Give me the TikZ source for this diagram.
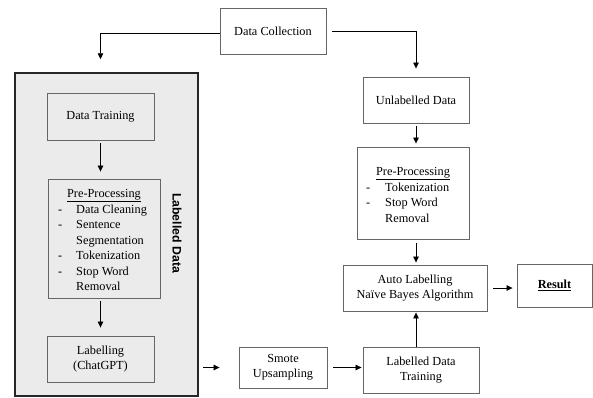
\documentclass[tikz,border=0pt]{standalone}
\usepackage{fontspec}
\setmainfont{Liberation Serif}
\newfontfamily\lsans{Liberation Sans}
\usetikzlibrary{arrows.meta}
\begin{document}
\begin{tikzpicture}[x=1pt,y=-1pt,
  every node/.style={font=\fontsize{12.3}{15.4}\selectfont},
  box/.style={draw=black!60,line width=0.9pt,inner sep=0pt,align=center},
  arr/.style={draw=black,line width=0.7pt,-{Triangle[length=6pt,width=5.5pt]}},
  txt/.style={inner sep=0pt,anchor=base west}]
\useasboundingbox (0,0) rectangle (593,397);
% big grey group
\node[draw=black!85,line width=1.5pt,fill=black!8,minimum width=183,minimum height=323,inner sep=0pt] (big) at (106.5,234.5) {};
\node[rotate=-90,font=\lsans\bfseries\fontsize{12.3}{14}\selectfont] (lbl) at (177,233) {Labelled Data};
% boxes
\node[box,minimum width=106,minimum height=46] (DC) at (273,31) {Data Collection};
\node[box,minimum width=107,minimum height=47] (DT) at (100.5,116.5) {Data Training};
\node[box,minimum width=112,minimum height=119] (PL) at (104,238.5) {};
\node[box,minimum width=107,minimum height=46] (LB) at (100.5,359) {Labelling\\(ChatGPT)};
\node[box,minimum width=106,minimum height=46] (UD) at (416,100) {Unlabelled Data};
\node[box,minimum width=112,minimum height=92] (PR) at (413,193) {};
\node[box,minimum width=144,minimum height=46] (AL) at (415,288) {Auto Labelling\\Naïve Bayes Algorithm};
\node[box,minimum width=75,minimum height=43] (RS) at (554.5,285.5) {\textbf{\underline{Result}}};
\node[box,minimum width=88,minimum height=41] (SM) at (283,367.5) {Smote\\Upsampling};
\node[box,minimum width=116,minimum height=46] (LDT) at (421,370) {Labelled Data\\Training};
% left pre-processing text
\node[inner sep=0pt,anchor=base] (PLh) at (104,197) {\underline{Pre-Processing}};
\node[txt] (PLd1) at (58,213) {-};
\node[txt] (PLt1) at (76,213) {Data Cleaning};
\node[txt] (PLd2) at (58,228.5) {-};
\node[txt] (PLt2) at (76,228.5) {Sentence};
\node[txt] (PLt3) at (76,244) {Segmentation};
\node[txt] (PLd4) at (58,259.5) {-};
\node[txt] (PLt4) at (76,259.5) {Tokenization};
\node[txt] (PLd5) at (58,275) {-};
\node[txt] (PLt5) at (76,275) {Stop Word};
\node[txt] (PLt6) at (76,290.5) {Removal};
% right pre-processing text
\node[inner sep=0pt,anchor=base] (PRh) at (413,175) {\underline{Pre-Processing}};
\node[txt] (PRd1) at (366,191) {-};
\node[txt] (PRt1) at (385,191) {Tokenization};
\node[txt] (PRd2) at (366,206.5) {-};
\node[txt] (PRt2) at (385,206.5) {Stop Word};
\node[txt] (PRt3) at (385,222) {Removal};
% connectors
\draw[arr,shorten >=13pt] ([yshift=-2pt]DC.west) -| (DT.north |- big.north);
\draw[arr,shorten <=6pt,shorten >=8pt] (DC.east) -| (UD.north);
\draw[arr,shorten <=3pt,shorten >=7pt] (DT.south) -- (DT.south |- PL.north);
\draw[arr,shorten <=3pt,shorten >=8pt] (DT.south |- PL.south) -- (LB.north);
\draw[arr,shorten <=4pt,shorten >=19pt] (big.east |- SM.west) -- (SM.west);
\draw[arr,shorten <=6pt,shorten >=1pt] (SM.east) -- (LDT.west |- SM.east);
\draw[arr,shorten >=1pt] (UD.north |- LDT.north) -- (UD.north |- AL.south);
\draw[arr,shorten <=3pt,shorten >=3pt] (UD.south) -- (UD.south |- PR.north);
\draw[arr,shorten <=4pt,shorten >=2pt] (UD.south |- PR.south) -- (UD.south |- AL.north);
\draw[arr,shorten <=6pt,shorten >=4pt] (AL.east) -- (RS.west |- AL.east);
\end{tikzpicture}
\end{document}
